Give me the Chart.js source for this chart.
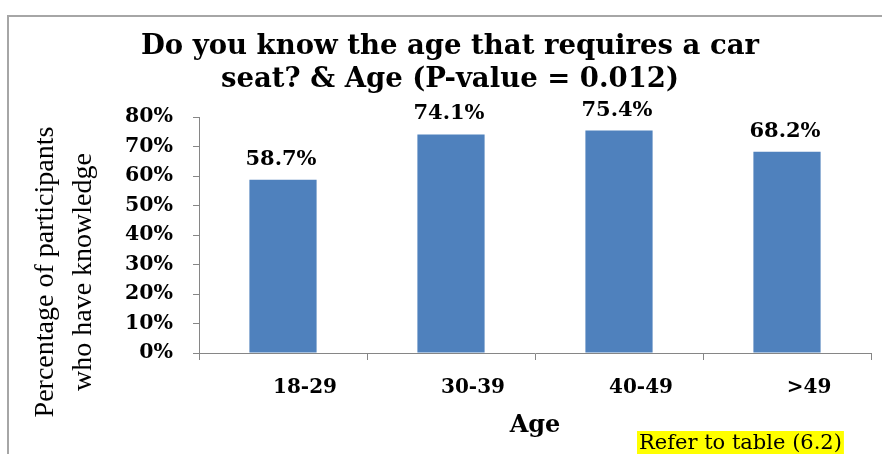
<!DOCTYPE html>
<html>
<head>
<meta charset="utf-8">
<script src="https://cdn.jsdelivr.net/npm/chart.js@4/dist/chart.umd.min.js"></script>
<style>
  html, body { margin: 0; padding: 0; background: #ffffff; overflow: hidden; }
  #wrap { width: 882px; height: 454px; position: relative; overflow: hidden; }
  canvas { display: block; }
</style>
</head>
<body>
<div id="wrap"><canvas id="c" width="882" height="454"></canvas></div>
<script>
const categories = ["18-29", "30-39", "40-49", ">49"];
const knowledgePct = [58.7, 74.1, 75.4, 68.2];
const yTickValues = [0, 10, 20, 30, 40, 50, 60, 70, 80];
const chartTitle = ["Do you know the age that requires a car", "seat? & Age (P-value = 0.012)"];
const yTitle = ["Percentage of participants", "who have knowledge"];
const xTitle = "Age";
const noteText = "Refer to table (6.2)";

const AXIS_GRAY = "#868686";
const BAR_BLUE = "#4F81BD";

const decorPlugin = {
  id: "decor",
  beforeDraw(chart) {
    const ctx = chart.ctx;
    ctx.save();
    ctx.fillStyle = "#ffffff";
    ctx.fillRect(0, 0, chart.width, chart.height);
    ctx.fillStyle = "#a6a6a6";
    ctx.fillRect(7, 15, chart.width - 7, 2);
    ctx.fillRect(7, 15, 2, chart.height - 15);
    ctx.restore();
  },
  afterDatasetsDraw(chart) {
    const ctx = chart.ctx;
    const meta = chart.getDatasetMeta(0);
    ctx.save();
    ctx.font = "bold 21px 'DejaVu Serif'";
    ctx.fillStyle = "#000000";
    ctx.textAlign = "center";
    ctx.textBaseline = "alphabetic";
    meta.data.forEach((bar, i) => {
      const v = chart.data.datasets[0].data[i];
      ctx.fillText(v.toFixed(1) + "%", bar.x - 2, bar.y - 15);
    });
    ctx.restore();
  },
  afterDraw(chart) {
    const ctx = chart.ctx;
    ctx.save();
    // rotated y-axis title
    const yScale = chart.scales.y;
    const cy = (yScale.top + yScale.bottom) / 2 + 37;
    ctx.font = "28px 'Liberation Serif'";
    ctx.fillStyle = "#000000";
    ctx.textAlign = "center";
    ctx.textBaseline = "middle";
    ctx.translate(46, cy);
    ctx.rotate(-Math.PI / 2);
    ctx.fillText(yTitle[0], 0, 0);
    ctx.fillText(yTitle[1], 0, 38);
    ctx.setTransform(1, 0, 0, 1, 0, 0);
    // note box
    ctx.font = "21px 'DejaVu Serif'";
    const w = ctx.measureText(noteText).width;
    const x0 = 637;
    ctx.fillStyle = "#ffff00";
    ctx.fillRect(x0, 431, w + 4, 24);
    ctx.fillStyle = "#000000";
    ctx.textBaseline = "alphabetic";
    ctx.textAlign = "left";
    ctx.fillText(noteText, x0 + 2, 449);
    // keep the right edge clear (frame is open on the right)
    ctx.fillStyle = "#ffffff";
    ctx.fillRect(chart.width - 4, 17, 4, chart.height - 17);
    ctx.restore();
  }
};

new Chart(document.getElementById("c"), {
  type: "bar",
  data: {
    labels: categories,
    datasets: [{
      data: knowledgePct,
      backgroundColor: BAR_BLUE,
      borderWidth: 0,
      categoryPercentage: 0.4,
      barPercentage: 1.0
    }]
  },
  options: {
    responsive: false,
    animation: false,
    devicePixelRatio: 1,
    layout: { padding: { left: 29, right: 11, top: 0, bottom: 0 } },
    plugins: {
      legend: { display: false },
      tooltip: { enabled: false },
      title: {
        display: true,
        text: chartTitle,
        color: "#000000",
        font: { family: "'DejaVu Serif'", size: 27.5, weight: "bold", lineHeight: 1.2 },
        padding: { top: 30, bottom: 21 }
      }
    },
    scales: {
      x: {
        offset: true,
        grid: { display: true, drawOnChartArea: false, drawTicks: true, tickLength: 7, color: AXIS_GRAY, offset: true },
        border: { display: true, color: AXIS_GRAY, width: 1 },
        ticks: {
          color: "#000000",
          font: { family: "'DejaVu Serif'", size: 20, weight: "bold" },
          padding: 16,
          labelOffset: 22,
          maxRotation: 0
        },
        title: {
          display: true,
          text: xTitle,
          color: "#000000",
          font: { family: "'DejaVu Serif'", size: 24, weight: "bold", lineHeight: 1.2 },
          padding: { top: 0, bottom: 14 }
        },
        afterFit(scale) { scale.height = 101; }
      },
      y: {
        min: 0,
        max: 80,
        afterBuildTicks(scale) { scale.ticks = yTickValues.map(v => ({ value: v })); },
        grid: { display: true, drawOnChartArea: false, drawTicks: true, tickLength: 6, color: AXIS_GRAY },
        border: { display: true, color: AXIS_GRAY, width: 1 },
        ticks: {
          color: "#000000",
          font: { family: "'DejaVu Serif'", size: 20.5, weight: "bold" },
          padding: 20,
          callback: v => v + "%"
        },
        title: { display: false },
        afterFit(scale) { scale.width = 170; }
      }
    }
  },
  plugins: [decorPlugin]
});
</script>
</body>
</html>
